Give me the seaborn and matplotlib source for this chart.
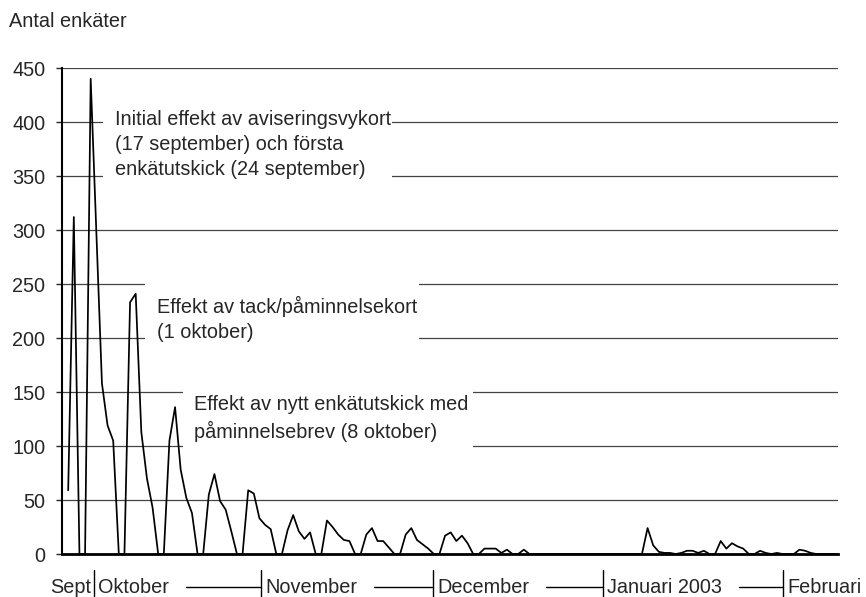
import numpy as np
import pandas as pd
import matplotlib
matplotlib.use("Agg")
import matplotlib.pyplot as plt
import seaborn as sns
from matplotlib.patches import Rectangle

# Returned questionnaires per day, starting Thursday 26 Sept 2002
counts = [59, 312, 0, 0,
          440, 300, 158, 119, 105, 0, 0,
          233, 241, 113, 70, 43, 0, 0,
          105, 136, 78, 52, 38, 0, 0,
          55, 74, 49, 41, 21, 0, 0,
          59, 56, 33, 27, 23, 0, 0,
          22, 36, 21, 14, 20, 0, 0,
          31, 25, 18, 13, 12, 0, 0,
          18, 24, 12, 12, 6, 0, 0,
          18, 24, 13, 9, 5, 0, 0,
          17, 20, 12, 17, 10, 0, 0,
          5, 5, 5, 1, 4, 0, 0,
          4, 0, 0, 0, 0, 0, 0,
          0, 0, 0, 0, 0, 0, 0,
          0, 0, 0, 0, 0, 0, 0,
          0, 24, 8, 2, 1, 1, 0,
          1, 3, 3, 1, 3, 0, 0,
          12, 5, 10, 7, 5, 0, 0,
          3, 1, 0, 1, 0, 0, 0,
          4, 3, 1, 0, 0, 0, 0,
          0]
day = list(range(len(counts)))

y_ticks = [0, 50, 100, 150, 200, 250, 300, 350, 400, 450]

month_labels = ["Sept", "Oktober", "November", "December", "Januari 2003", "Februari"]
month_edges = [4.6, 34.3, 64.9, 95.1, 127.1]   # dividers, in days

notes = [
    "Initial effekt av aviseringsvykort\n(17 september) och första\nenkätutskick (24 september)",
    "Effekt av tack/påminnelsekort\n(1 oktober)",
    "Effekt av nytt enkätutskick med\npåminnelsebrev (8 oktober)",
]

df = pd.DataFrame({"dag": day, "antal": counts})

sns.set_style("white")
plt.rcParams["font.family"] = ["Liberation Sans", "DejaVu Sans"]

fig = plt.figure(figsize=(8.66, 5.97), dpi=100)
ax = fig.add_axes([62 / 866, 43 / 597, 776 / 866, 486 / 597])

sns.lineplot(data=df, x="dag", y="antal", color="black", lw=1.25, ax=ax, zorder=3)

ax.set_xlim(-1.1, 136.85)
ax.set_ylim(0, 450)
ax.set_yticks(y_ticks)
ax.set_xticks([])
ax.set_xlabel("")
ax.set_ylabel("")
ax.yaxis.grid(True, color="#444444", lw=0.9)
ax.set_axisbelow(True)
ax.tick_params(axis="y", length=4, width=1, pad=8, labelsize=14.3, direction="out", left=True)

for s in ["top", "right"]:
    ax.spines[s].set_visible(False)
ax.spines["left"].set_linewidth(1.5)
ax.spines["bottom"].set_linewidth(2)
ax.spines["left"].set_color("black")
ax.spines["bottom"].set_color("black")

# white boxes behind the notes hide the gridlines
boxes = [(6.24, 328, 51.3, 93), (13.65, 189, 48.75, 74), (20.36, 87, 51.6, 74)]
for x0, y0, w, h in boxes:
    ax.add_patch(Rectangle((x0, y0), w, h, facecolor="white", edgecolor="none", zorder=1.5))

# positions give the baseline of the last line of each note
note_pos = [(8.32, 350.9), (15.79, 200), (22.36, 107.4)]
for (x, y), txt in zip(note_pos, notes):
    ax.text(x, y, txt, fontsize=14.3, va="baseline", ha="left", linespacing=1.4, zorder=4)

fig.text(9 / 866, 1 - 27 / 597, "Antal enkäter", fontsize=14.3, va="baseline", ha="left")

# month labels under the axis
tr = ax.get_xaxis_transform()
for e in month_edges:
    ax.plot([e, e], [-0.0329, -0.0885], transform=tr, color="black", lw=1, clip_on=False)

label_objs = []
label_objs.append(ax.text(month_edges[0] - 0.55, -0.0802, month_labels[0], transform=tr,
                          fontsize=14.3, ha="right", va="baseline"))
for e, lab in zip(month_edges, month_labels[1:]):
    label_objs.append(ax.text(e + 0.7, -0.0802, lab, transform=tr,
                              fontsize=14.3, ha="left", va="baseline"))

fig.canvas.draw()
renderer = fig.canvas.get_renderer()
inv = ax.transData.inverted()
for t, nxt in zip(label_objs[1:-1], month_edges[1:]):
    bb = t.get_window_extent(renderer)
    x_start = inv.transform((bb.x1 + 17, 0))[0]
    ax.plot([x_start, nxt], [-0.0673, -0.0673], transform=tr, color="black", lw=1, clip_on=False)

fig.savefig("out.png", dpi=100)
